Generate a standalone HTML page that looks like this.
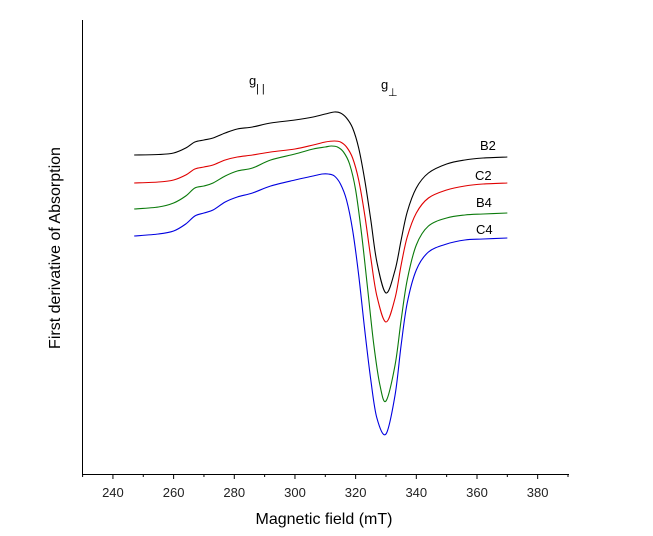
<!DOCTYPE html>
<html><head><meta charset="utf-8"><style>
body{margin:0;background:#fff;}
svg{display:block;font-family:"Liberation Sans",Arial,sans-serif;}
</style></head><body>
<svg id="chart" width="653" height="536">
<g id="axes"></g><g id="series"></g>
<text x="60" y="248" transform="rotate(-90 60 248)" text-anchor="middle" font-size="16" fill="#000">First derivative of Absorption</text>
<text x="324" y="524" text-anchor="middle" font-size="16" fill="#000">Magnetic field (mT)</text>
<g><text x="249" y="85" font-size="13">g</text><text x="256" y="92" font-size="11">| |</text></g>
<g><text x="381" y="89" font-size="13">g</text><text x="388" y="96" font-size="11">⊥</text></g>
</svg>
<script>
const xTicks=[240,260,280,300,320,340,360,380];
const minorTicks=[230,250,270,290,310,330,350,370,390];
const seriesNames=["B2","C2","B4","C4"];
const seriesColors=["#000","#e00000","#0a7a0a","#0000e0"];
const fields=[247,255,260,264,267,270,273,277,281,286,292,300,306,310,313,315,317,319,321,323,325,327,330,333,335,337,340,344,350,356,362,370];
const fieldsG=[247,255,260,264,267,270,273,277,281,286,292,300,306,310,312,314,316,318,320,322,324,326,328,330,333,335,337,340,344,350,356,362,370];
const fieldsBl=[247,255,260,264,267,270,273,277,281,286,292,300,306,309,311,313,315,317,319,321,323,325,327,330,333,335,337,340,344,350,356,362,370];
const valsB2=[319,319.5,321,326,332,334,336,341,345,347,351,354,357,360,362,361,356,346,326,294,254,212,181,204,234,262,286,301,310,314,316,317];
const valsC2=[291,292,294,299,305,307,309,314,317,319,322,325,329,332,333,332,327,316,294,259,216,178,152,176,209,237,261,276,284,288,290,291];
const valsB4=[265,267,271,278,286,288,291,298,303,306,314,320,325,327,328,327,322,310,284,239,184,129,89,73,109,154,194,229,248,256,259,260,261];
const valsC4=[238,240,243,250,258,261,264,272,277,281,288,294,298,300,300,298,290,274,244,199,144,94,56,40,79,129,171,204,222,230,234,235,236];
const seriesFields=[fields,fields,fieldsG,fieldsBl];
const seriesVals=[valsB2,valsC2,valsB4,valsC4];
const labelPos=[[480,150],[475,180],[476,207],[476,234]];
const NS="http://www.w3.org/2000/svg";
const X0=82.6,X1=568,D0=230,D1=390;
const xs=v=>X0+(v-D0)/(D1-D0)*(X1-X0);
const ys=v=>474-v;
function mk(t,a,p){const e=document.createElementNS(NS,t);for(const k in a)e.setAttribute(k,a[k]);p.appendChild(e);return e;}
const ax=document.getElementById('axes');
let l=mk('line',{x1:82.5,y1:20,x2:82.5,y2:474.5,stroke:'#000','stroke-width':1},ax);


l=mk('line',{x1:82,y1:474.5,x2:569,y2:474.5,stroke:'#000','stroke-width':1},ax);


xTicks.forEach(t=>{const x=xs(t);
 const k=mk('line',{x1:x,y1:474,x2:x,y2:479,stroke:'#000'},ax);
 
 
 const tx=mk('text',{x:x,y:497,'text-anchor':'middle','font-size':13,fill:'#222'},ax);tx.textContent=t;
 
 });
minorTicks.forEach(t=>{const x=xs(t);
 const k=mk('line',{x1:x,y1:474,x2:x,y2:477,stroke:'#000'},ax);
 
 });
const sg=document.getElementById('series');
function smooth(pts){let d=`M${pts[0][0]},${pts[0][1]}`;
 for(let i=0;i<pts.length-1;i++){const p0=pts[Math.max(0,i-1)],p1=pts[i],p2=pts[i+1],p3=pts[Math.min(pts.length-1,i+2)];
 d+=` C${p1[0]+(p2[0]-p0[0])/6},${p1[1]+(p2[1]-p0[1])/6} ${p2[0]-(p3[0]-p1[0])/6},${p2[1]-(p3[1]-p1[1])/6} ${p2[0]},${p2[1]}`;}
 return d;}
seriesNames.forEach((n,i)=>{
 const pts=seriesFields[i].map((f,j)=>[xs(f),ys(seriesVals[i][j])]);
 const p=mk('path',{d:smooth(pts),fill:'none',stroke:seriesColors[i],'stroke-width':1.1},sg);
 
 
 const t=mk('text',{x:labelPos[i][0],y:labelPos[i][1],'font-size':13,fill:'#000'},sg);t.textContent=n;
 
 
});
</script>
</body></html>
